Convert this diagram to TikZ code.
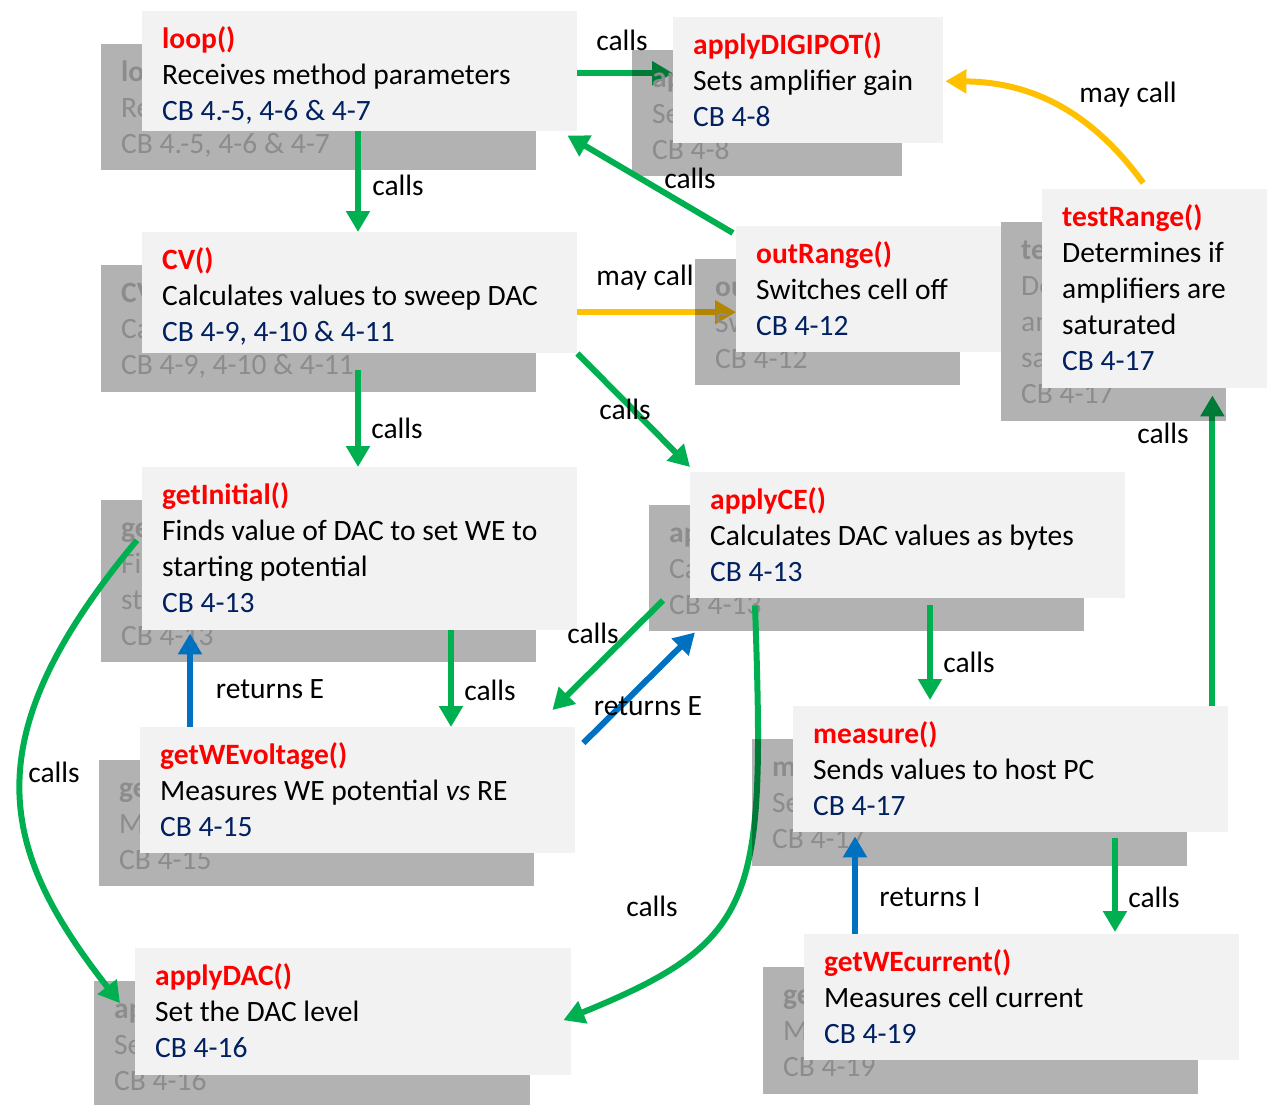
\documentclass[tikz,border=0pt]{standalone}
\usepackage{fontspec}
\setmainfont{Carlito}
\usetikzlibrary{arrows.meta}

\definecolor{boxfill}{HTML}{F2F2F2}
\definecolor{ghosttext}{HTML}{8C8C8C}
\definecolor{titlered}{HTML}{FF0000}
\definecolor{refblue}{HTML}{002060}
\definecolor{callgreen}{HTML}{00B050}
\definecolor{retblue}{HTML}{0070C0}
\definecolor{maygold}{HTML}{FFC000}
\colorlet{ttlc}{titlered}
\colorlet{cbc}{refblue}

\newcommand\fnttl[1]{\textcolor{ttlc}{\bfseries #1}}
\newcommand\fncb[1]{\textcolor{cbc}{#1}}

\pgfdeclarelayer{background}
\pgfsetlayers{background,main}

\tikzset{
  every node/.style={font=\fontsize{29.5}{36}\selectfont},
  ghostbox/.style={fill=black, fill opacity=0.3},
  ghosttxt/.style={anchor=base west, inner sep=0pt, text=ghosttext,
    execute at begin node={\colorlet{ttlc}{ghosttext}\colorlet{cbc}{ghosttext}}},
  frontbox/.style={fill=boxfill, draw=none, inner sep=0pt, anchor=north west},
  fronttxt/.style={anchor=base west, inner sep=0pt, text=black},
  lbl/.style={inner sep=0pt, text=black},
  calls/.style={draw=callgreen, line width=6pt, -{Triangle[width=23pt,length=21pt]}},
  rets/.style={calls, draw=retblue},
  maycall/.style={calls, draw=maygold}
}

% function box: name, left, top, right, bottom, extra depth of the shaded copy, text lines
% a shaded copy sits behind, shifted down and to the left
\newcommand\fnbox[7]{%
  \fill[ghostbox] ({#2-41},{#3+33}) rectangle ({#4-41},{#5+33+#6});
  \node[ghosttxt] at ({#2-21},{#3+70}) {\parbox[t]{560pt}{\raggedright #7}};
  \node[frontbox, minimum width={(#4-#2)*1pt}, minimum height={(#5-#3)*1pt}] (#1) at (#2,#3) {};
  \node[fronttxt] at ({#2+20},{#3+37}) {\parbox[t]{560pt}{\raggedright #7}};
}

\begin{document}
\begin{tikzpicture}[x=1pt, y=-1pt]
\useasboundingbox (0,0) rectangle (1270,1104);

\fnbox{loop}{142}{11}{577}{131}{6}{\fnttl{loop()}\\Receives method parameters\\\fncb{CB 4.-5, 4-6 \& 4-7}}
\fnbox{cv}{142}{232}{577}{353}{6}{\fnttl{CV()}\\Calculates values to sweep DAC\\\fncb{CB 4-9, 4-10 \& 4-11}}
\fnbox{init}{142}{467}{577}{630}{-1}{\fnttl{getInitial()}\\Finds value of DAC to set WE to\\starting potential\\\fncb{CB 4-13}}
\fnbox{wev}{140}{727}{575}{853}{0}{\fnttl{getWEvoltage()}\\Measures WE potential \textit{vs} RE\\\fncb{CB 4-15}}
\fnbox{dac}{135}{948}{571}{1075}{0}{\fnttl{applyDAC()}\\Set the DAC level\\\fncb{CB 4-16}}
\fnbox{ce}{690}{472}{1125}{598}{0}{\fnttl{applyCE()}\\Calculates DAC values as bytes\\\fncb{CB 4-13}}

% this call runs over the applyCE copy and under the measure copy
\draw[calls] ([xshift=65pt,yshift=-7pt]ce.south west)
  .. controls (765,900) and (760,940) .. ([xshift=-8pt,yshift=-8.5pt]dac.east)
  node[lbl] at (652,906) {calls};

\fnbox{meas}{793}{706}{1228}{832}{1}{\fnttl{measure()}\\Sends values to host PC\\\fncb{CB 4-17}}
\fnbox{wec}{804}{934}{1239}{1060}{1}{\fnttl{getWEcurrent()}\\Measures cell current\\\fncb{CB 4-19}}
\fnbox{dig}{673}{17}{943}{143}{0}{\fnttl{applyDIGIPOT()}\\Sets amplifier gain\\\fncb{CB 4-8}}
\fnbox{outr}{736}{226}{1001}{352}{0}{\fnttl{outRange()}\\Switches cell off\\\fncb{CB 4-12}}
\fnbox{test}{1042}{189}{1267}{388}{0}{\fnttl{testRange()}\\Determines if\\amplifiers are\\saturated\\\fncb{CB 4-17}}

% connectors that pass beneath the shaded copies
\begin{pgfonlayer}{background}
  \draw[calls] ([yshift=-2pt]loop.east) -- ([yshift=7pt]dig.west)
    node[lbl] at (622,40) {calls};
  \draw[maycall] ([yshift=-19.5pt]cv.east) -- ([yshift=-23pt]outr.west)
    node[lbl] at (645,278) {may call};
  \draw[calls] ([xshift=-16pt,yshift=-2pt]meas.north east) -- ([xshift=-55pt,yshift=-7pt]test.south east)
    node[lbl] at (1163,433) {calls};
\end{pgfonlayer}

% remaining connectors
\draw[calls] ([xshift=216pt]loop.south west) -- ([xshift=216pt]cv.north west)
  node[lbl] at (398,185) {calls};
\draw[calls] ([xshift=-3pt,yshift=-7pt]outr.north west) -- ([xshift=-10pt,yshift=-4pt]loop.south east)
  node[lbl] at (690,178) {calls};
\draw[maycall] ([xshift=-11.5pt,yshift=6pt]test.north)
  .. controls (1090,110) and (1030,82) .. ([xshift=2pt,yshift=-1pt]dig.east)
  node[lbl] at (1128,95) {may call};
\draw[calls] (cv.south east) -- ([yshift=5pt]ce.north west)
  node[lbl] at (625,409) {calls};
\draw[calls] ([xshift=216pt,yshift=-17pt]cv.south west) -- ([xshift=216pt]init.north west)
  node[lbl] at (397,428) {calls};
\draw[calls] ([xshift=309pt]init.south west) -- ([xshift=311pt]wev.north west)
  node[lbl] at (490,690) {calls};
\draw[rets] ([xshift=50pt]wev.north west) -- ([xshift=48pt,yshift=-3pt]init.south west)
  node[lbl] at (270,689) {returns E};
\draw[calls] ([xshift=-27pt,yshift=-2pt]ce.south west) -- ([xshift=-23pt,yshift=17pt]wev.north east)
  node[lbl] at (593,633) {calls};
\draw[rets] ([xshift=8pt,yshift=-16pt]wev.north east) -- ([xshift=5pt,yshift=-34pt]ce.south west)
  node[lbl] at (648,706) {returns E};
\draw[calls] ([xshift=-5pt,yshift=8.5pt]init.west)
  .. controls (-30,740) and (0,850) .. ([xshift=-15pt,yshift=8.5pt]dac.west)
  node[lbl] at (54,772) {calls};
\draw[calls] ([xshift=240pt,yshift=-7pt]ce.south west) -- ([xshift=137pt,yshift=6pt]meas.north west)
  node[lbl] at (969,662) {calls};
\draw[calls] ([xshift=322pt,yshift=-6pt]meas.south west) -- ([xshift=311pt,yshift=2pt]wec.north west)
  node[lbl] at (1154,897) {calls};
\draw[rets] ([xshift=51pt]wec.north west) -- ([xshift=62pt,yshift=-4pt]meas.south west)
  node[lbl] at (930,897) {returns I};
\end{tikzpicture}
\end{document}
